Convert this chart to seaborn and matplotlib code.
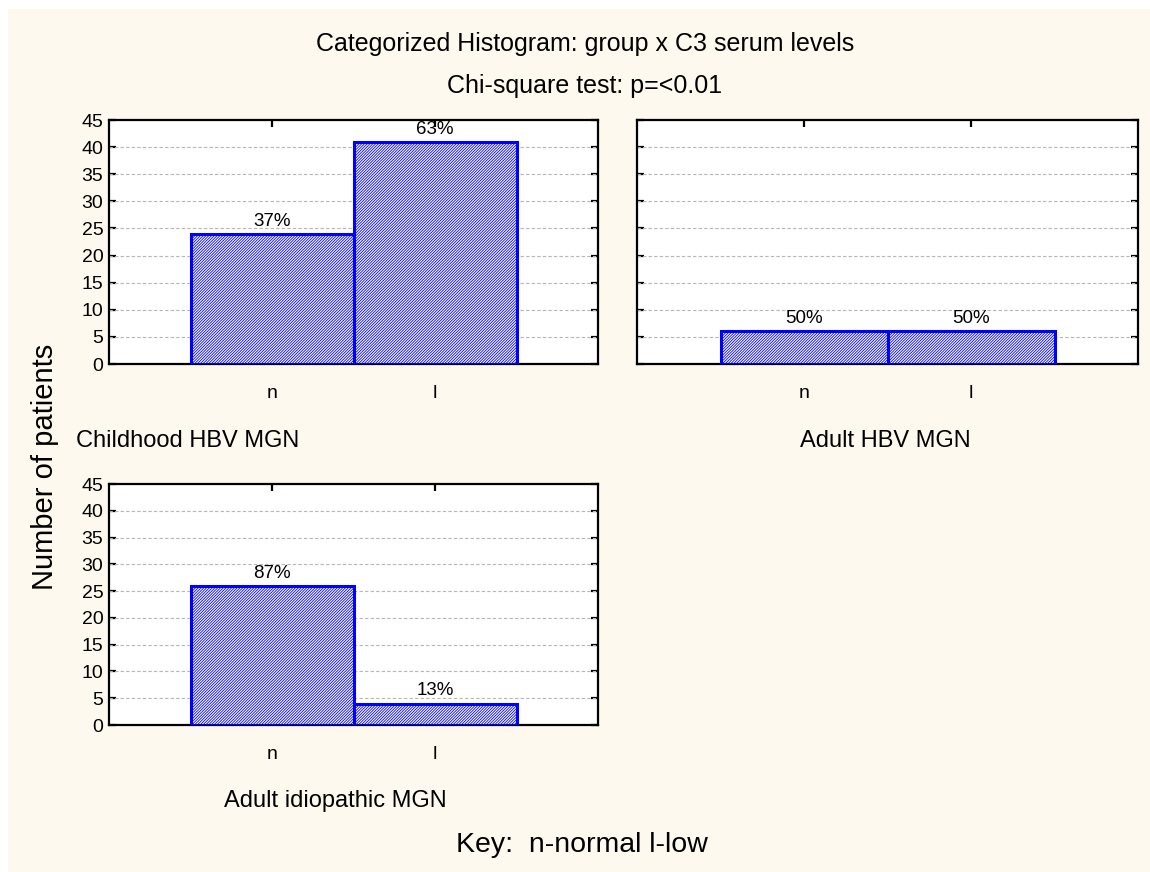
import numpy as np
import pandas as pd
import matplotlib
matplotlib.use("Agg")
import matplotlib.pyplot as plt
import matplotlib.patches as mpatches
import seaborn as sns

# data
levels = ["n", "l"]
childhood_hbv = [24, 41]
adult_hbv = [6, 6]
adult_idiopathic = [26, 4]
group_names = ["Childhood HBV MGN", "Adult HBV MGN", "Adult idiopathic MGN"]
y_ticks = list(range(0, 50, 5))

sns.set_style("white")
plt.rcParams['font.family'] = ['Liberation Sans', 'DejaVu Sans']
plt.rcParams['text.color'] = 'black'
plt.rcParams['xtick.color'] = 'black'
plt.rcParams['ytick.color'] = 'black'
plt.rcParams['hatch.linewidth'] = 0.6
plt.rcParams['hatch.color'] = 'blue'

W, H = 1150, 872
fig = plt.figure(figsize=(W / 100, H / 100), dpi=100, facecolor='white')
fig.patches.append(mpatches.Rectangle((8 / W, 0), 1 - 8 / W, 1 - 9 / H,
                                      transform=fig.transFigure, facecolor='#FDF9EE',
                                      edgecolor='none', zorder=-10))


def px_axes(left, top, right, bottom):
    return fig.add_axes([left / W, 1 - bottom / H, (right - left) / W, (bottom - top) / H])


ax1 = px_axes(109, 120, 598, 364)
ax2 = px_axes(637, 120, 1138, 364)
ax3 = px_axes(109, 484, 598, 725)


def draw_panel(ax, values, show_ylabels=True):
    df = pd.DataFrame({"level": levels, "count": values})
    sns.barplot(data=df, x="level", y="count", ax=ax, width=1.0, color="white",
                saturation=1, edgecolor="blue", linewidth=2.2, hatch="/" * 12, zorder=3)
    total = sum(values)
    for i, v in enumerate(values):
        ax.annotate(f"{round(100 * v / total)}%", (i, v), xytext=(0, 3),
                    textcoords="offset points", ha="center", va="bottom",
                    fontsize=13.5, zorder=10, annotation_clip=False)
    ax.set_xlim(-1, 2)
    ax.set_ylim(0, 45)
    ax.set_yticks(y_ticks)
    ax.set_facecolor("white")
    for y in y_ticks[1:-1]:
        ax.axhline(y, color="#b5b5b5", linestyle=(0, (3, 2)), linewidth=0.8, zorder=1)
    for s in ax.spines.values():
        s.set_linewidth(1.6)
        s.set_color("black")
        s.set_visible(True)
    ax.tick_params(axis="both", direction="in", length=5, width=1.6,
                   top=True, right=True, left=True, bottom=True, labelsize=14)
    ax.tick_params(axis="x", pad=15)
    ax.tick_params(axis="y", pad=4)
    if not show_ylabels:
        ax.set_yticklabels([])
    ax.set_xlabel("")
    ax.set_ylabel("")


draw_panel(ax1, childhood_hbv)
draw_panel(ax2, adult_hbv, show_ylabels=False)
draw_panel(ax3, adult_idiopathic)

fig.text(585 / W, 1 - 44 / H, "Categorized Histogram: group x C3 serum levels",
         ha="center", va="center", fontsize=18)
fig.text(585 / W, 1 - 86 / H, "Chi-square test: p=<0.01", ha="center", va="center", fontsize=18)
fig.text(76 / W, 1 - 441 / H, group_names[0], ha="left", va="center", fontsize=17)
fig.text(885 / W, 1 - 441 / H, group_names[1], ha="center", va="center", fontsize=17)
fig.text(335 / W, 1 - 801 / H, group_names[2], ha="center", va="center", fontsize=17)
fig.text(582 / W, 1 - 845 / H, "Key:  n-normal l-low", ha="center", va="center", fontsize=20.5)
fig.text(45 / W, 1 - 467 / H, "Number of patients", ha="center", va="center",
         rotation=90, fontsize=21)

fig.savefig("out.png", dpi=100, facecolor=fig.get_facecolor())
